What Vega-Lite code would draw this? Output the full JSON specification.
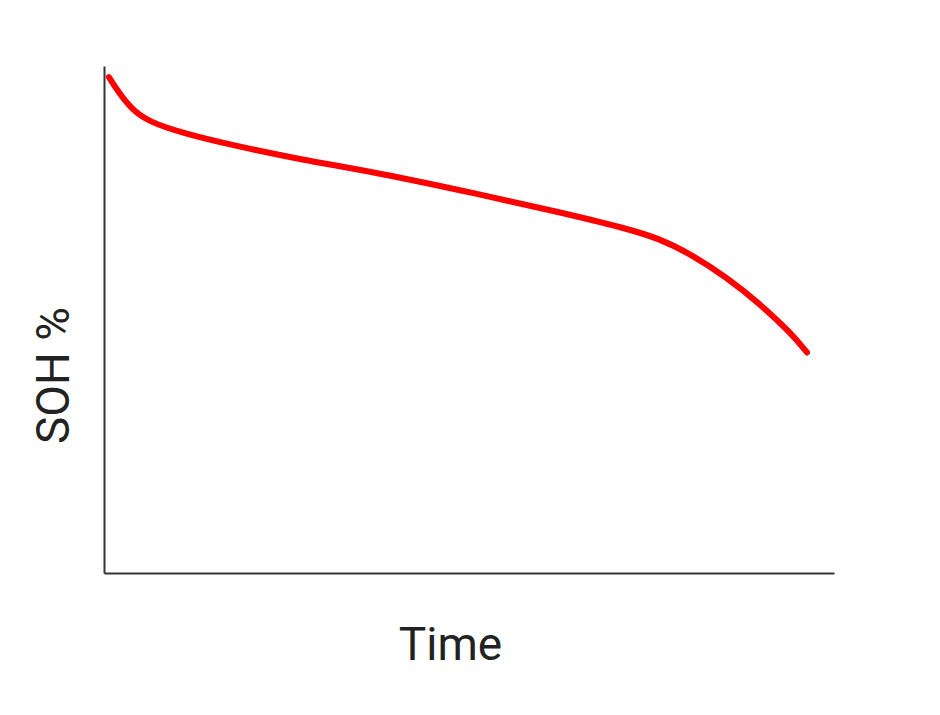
{
  "$schema": "https://vega.github.io/schema/vega-lite/v6.json",
  "autosize": "none",
  "width": 730,
  "height": 507,
  "padding": {"left": 104, "top": 66, "right": 106, "bottom": 142},
  "background": "white",
  "config": {"view": {"stroke": null}},
  "data": {"values": [
    {"t": 0.68, "soh": 97.8},
    {"t": 2.05, "soh": 94.7},
    {"t": 3.84, "soh": 91.4},
    {"t": 6.16, "soh": 89.0},
    {"t": 10.7, "soh": 86.8},
    {"t": 17.5, "soh": 84.4},
    {"t": 26.7, "soh": 81.6},
    {"t": 37.7, "soh": 78.9},
    {"t": 51.4, "soh": 74.7},
    {"t": 62.3, "soh": 71.2},
    {"t": 71.5, "soh": 68.0},
    {"t": 76.0, "soh": 66.0},
    {"t": 80.5, "soh": 62.8},
    {"t": 85.2, "soh": 58.4},
    {"t": 89.7, "soh": 53.3},
    {"t": 94.2, "soh": 47.2},
    {"t": 96.3, "soh": 43.5}
  ]},
  "mark": {"type": "line", "color": "#ff0000", "strokeWidth": 6, "interpolate": "basis", "strokeCap": "round"},
  "encoding": {
    "x": {"field": "t", "type": "quantitative", "scale": {"domain": [0, 100], "nice": false, "zero": false},
      "axis": {"title": "Time", "grid": false, "ticks": false, "labels": false, "domainColor": "#333", "domainWidth": 2,
        "titleFont": "Roboto", "titleFontSize": 46, "titleFontWeight": "normal", "titleColor": "#222",
        "titleX": 346, "titleY": 72, "titleBaseline": "middle", "titleAlign": "center"}},
    "y": {"field": "soh", "type": "quantitative", "scale": {"domain": [0, 100], "nice": false, "zero": false},
      "axis": {"title": "SOH %", "grid": false, "ticks": false, "labels": false, "domainColor": "#333", "domainWidth": 2,
        "titleFont": "Roboto", "titleFontSize": 46, "titleFontWeight": "normal", "titleColor": "#222",
        "titleX": -50, "titleY": 309, "titleBaseline": "middle", "titleAlign": "center", "titleAngle": -90}}
  }
}
